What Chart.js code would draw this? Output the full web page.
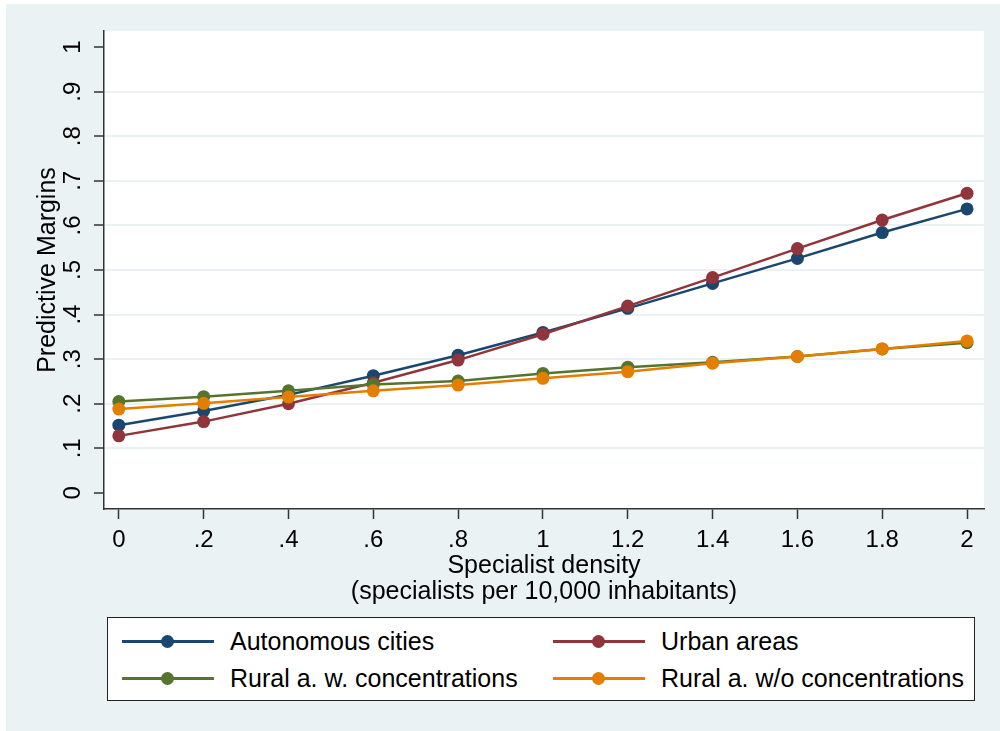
<!DOCTYPE html>
<html lang="en">
<head>
    <meta charset="UTF-8">
    <title>Predictive Margins</title>
    <script src="https://cdn.jsdelivr.net/npm/chart.js"></script>
    <style>
        body { margin: 0; background: #fff; font-family: "Liberation Sans", Arial, sans-serif; }
        #wrap { position: relative; width: 1000px; height: 731px; }
        #legend { position: absolute; left: 107px; top: 617px; width: 866px; height: 82px;
                  border: 1px solid #222; background: #fff; }
        .item { position: absolute; height: 30px; font-size: 25px; color: #000; line-height: 30px; }
        .sym { position: absolute; left: 0; top: 14px; width: 92px; height: 2.5px; }
        .dot { position: absolute; left: 39px; top: -5px; width: 13px; height: 13px; border-radius: 50%; }
        .lbl { position: absolute; left: 108px; top: 0; white-space: nowrap; }
    </style>
</head>
<body>
<div id="wrap">
    <canvas id="marginsChart" width="1000" height="731"></canvas>
    <div id="legend"></div>
</div>
<script>
// valeurs
const density = [0, 0.2, 0.4, 0.6, 0.8, 1, 1.2, 1.4, 1.6, 1.8, 2];
const xTickLabels = ['0', '.2', '.4', '.6', '.8', '1', '1.2', '1.4', '1.6', '1.8', '2'];
const yTicks = [0, 0.1, 0.2, 0.3, 0.4, 0.5, 0.6, 0.7, 0.8, 0.9, 1];
const yTickLabels = ['0', '.1', '.2', '.3', '.4', '.5', '.6', '.7', '.8', '.9', '1'];

const autonomousCities = [0.152, 0.184, 0.220, 0.263, 0.309, 0.360, 0.414, 0.470, 0.526, 0.584, 0.637];
const urbanAreas       = [0.128, 0.160, 0.200, 0.247, 0.298, 0.356, 0.419, 0.483, 0.548, 0.612, 0.672];
const ruralWith        = [0.205, 0.216, 0.229, 0.243, 0.251, 0.268, 0.282, 0.293, 0.306, 0.323, 0.337];
const ruralWithout     = [0.188, 0.201, 0.215, 0.229, 0.242, 0.257, 0.272, 0.291, 0.306, 0.323, 0.341];

const seriesNames = ['Autonomous cities', 'Urban areas', 'Rural a. w. concentrations', 'Rural a. w/o concentrations'];
const seriesColors = ['#1a476f', '#90353b', '#55752f', '#e37e00'];
const seriesValues = [autonomousCities, urbanAreas, ruralWith, ruralWithout];

const BG = '#eaf2f3';
const FONT = '"Liberation Sans", Arial, sans-serif';

// fond gris-bleu + zone blanche
const background = {
    id: 'background',
    beforeDraw(chart) {
        const ctx = chart.ctx, a = chart.chartArea;
        ctx.save();
        ctx.fillStyle = '#fff';
        ctx.fillRect(0, 0, chart.width, chart.height);
        ctx.fillStyle = BG;
        ctx.fillRect(6, 4, chart.width - 6, chart.height - 4);
        ctx.fillStyle = '#fff';
        ctx.fillRect(a.left, a.top, a.right - a.left, a.bottom - a.top);
        ctx.restore();
    }
};

const datasets = seriesValues.map((vals, i) => ({
    label: seriesNames[i],
    data: density.map((x, j) => ({ x: x, y: vals[j] })),
    borderColor: seriesColors[i],
    backgroundColor: seriesColors[i],
    borderWidth: 2.5,
    pointRadius: 6.5,
    pointBorderWidth: 0,
    order: 3 - i
}));

const ctx = document.getElementById('marginsChart').getContext('2d');
new Chart(ctx, {
    type: 'line',
    data: { datasets: datasets },
    options: {
        responsive: false,
        animation: false,
        layout: { padding: { top: 31, right: 16, left: 0, bottom: 0 } },
        plugins: { legend: { display: false }, tooltip: { enabled: false } },
        scales: {
            x: {
                type: 'linear',
                min: -0.035,
                max: 2.04,
                afterBuildTicks: s => { s.ticks = density.map(v => ({ value: v })); },
                afterFit: s => { s.height = 222; },
                ticks: {
                    callback: (v, i) => xTickLabels[i],
                    font: { family: FONT, size: 24 },
                    color: '#000',
                    padding: 7,
                    maxRotation: 0
                },
                grid: { drawOnChartArea: false, tickLength: 10, tickColor: '#333', tickWidth: 1.5 },
                border: { color: '#333', width: 1.5 },
                title: {
                    display: true,
                    text: ['Specialist density', '(specialists per 10,000 inhabitants)'],
                    font: { family: FONT, size: 25, lineHeight: 1.05 },
                    color: '#000',
                    padding: { top: 0, bottom: 126 }
                }
            },
            y: {
                min: -0.036,
                max: 1.036,
                afterBuildTicks: s => { s.ticks = yTicks.map(v => ({ value: v })); },
                afterFit: s => { s.width = 104; },
                ticks: {
                    callback: (v, i) => yTickLabels[i],
                    font: { family: FONT, size: 24 },
                    color: '#000',
                    padding: 11,
                    minRotation: 90,
                    maxRotation: 90,
                    crossAlign: 'center'
                },
                grid: {
                    color: c => (c.tick && (c.tick.value === 0 || c.tick.value === 1)) ? 'rgba(0,0,0,0)' : BG,
                    lineWidth: 2,
                    tickLength: 10,
                    tickColor: '#333',
                    tickWidth: 1.5
                },
                border: { color: '#333', width: 1.5 },
                title: {
                    display: true,
                    text: 'Predictive Margins',
                    font: { family: FONT, size: 25, lineHeight: 1.05 },
                    color: '#000',
                    padding: { top: 35, bottom: 0 }
                }
            }
        }
    },
    plugins: [background]
});

// légende encadrée sur deux colonnes
const legend = document.getElementById('legend');
seriesNames.forEach((name, i) => {
    const item = document.createElement('div');
    item.className = 'item';
    item.style.left = (i % 2 === 0 ? 14 : 445) + 'px';
    item.style.top = (i < 2 ? 8 : 45) + 'px';
    item.innerHTML = '<div class="sym" style="background:' + seriesColors[i] + '">' +
        '<div class="dot" style="background:' + seriesColors[i] + '"></div></div>' +
        '<div class="lbl">' + name + '</div>';
    legend.appendChild(item);
});
</script>
</body>
</html>
